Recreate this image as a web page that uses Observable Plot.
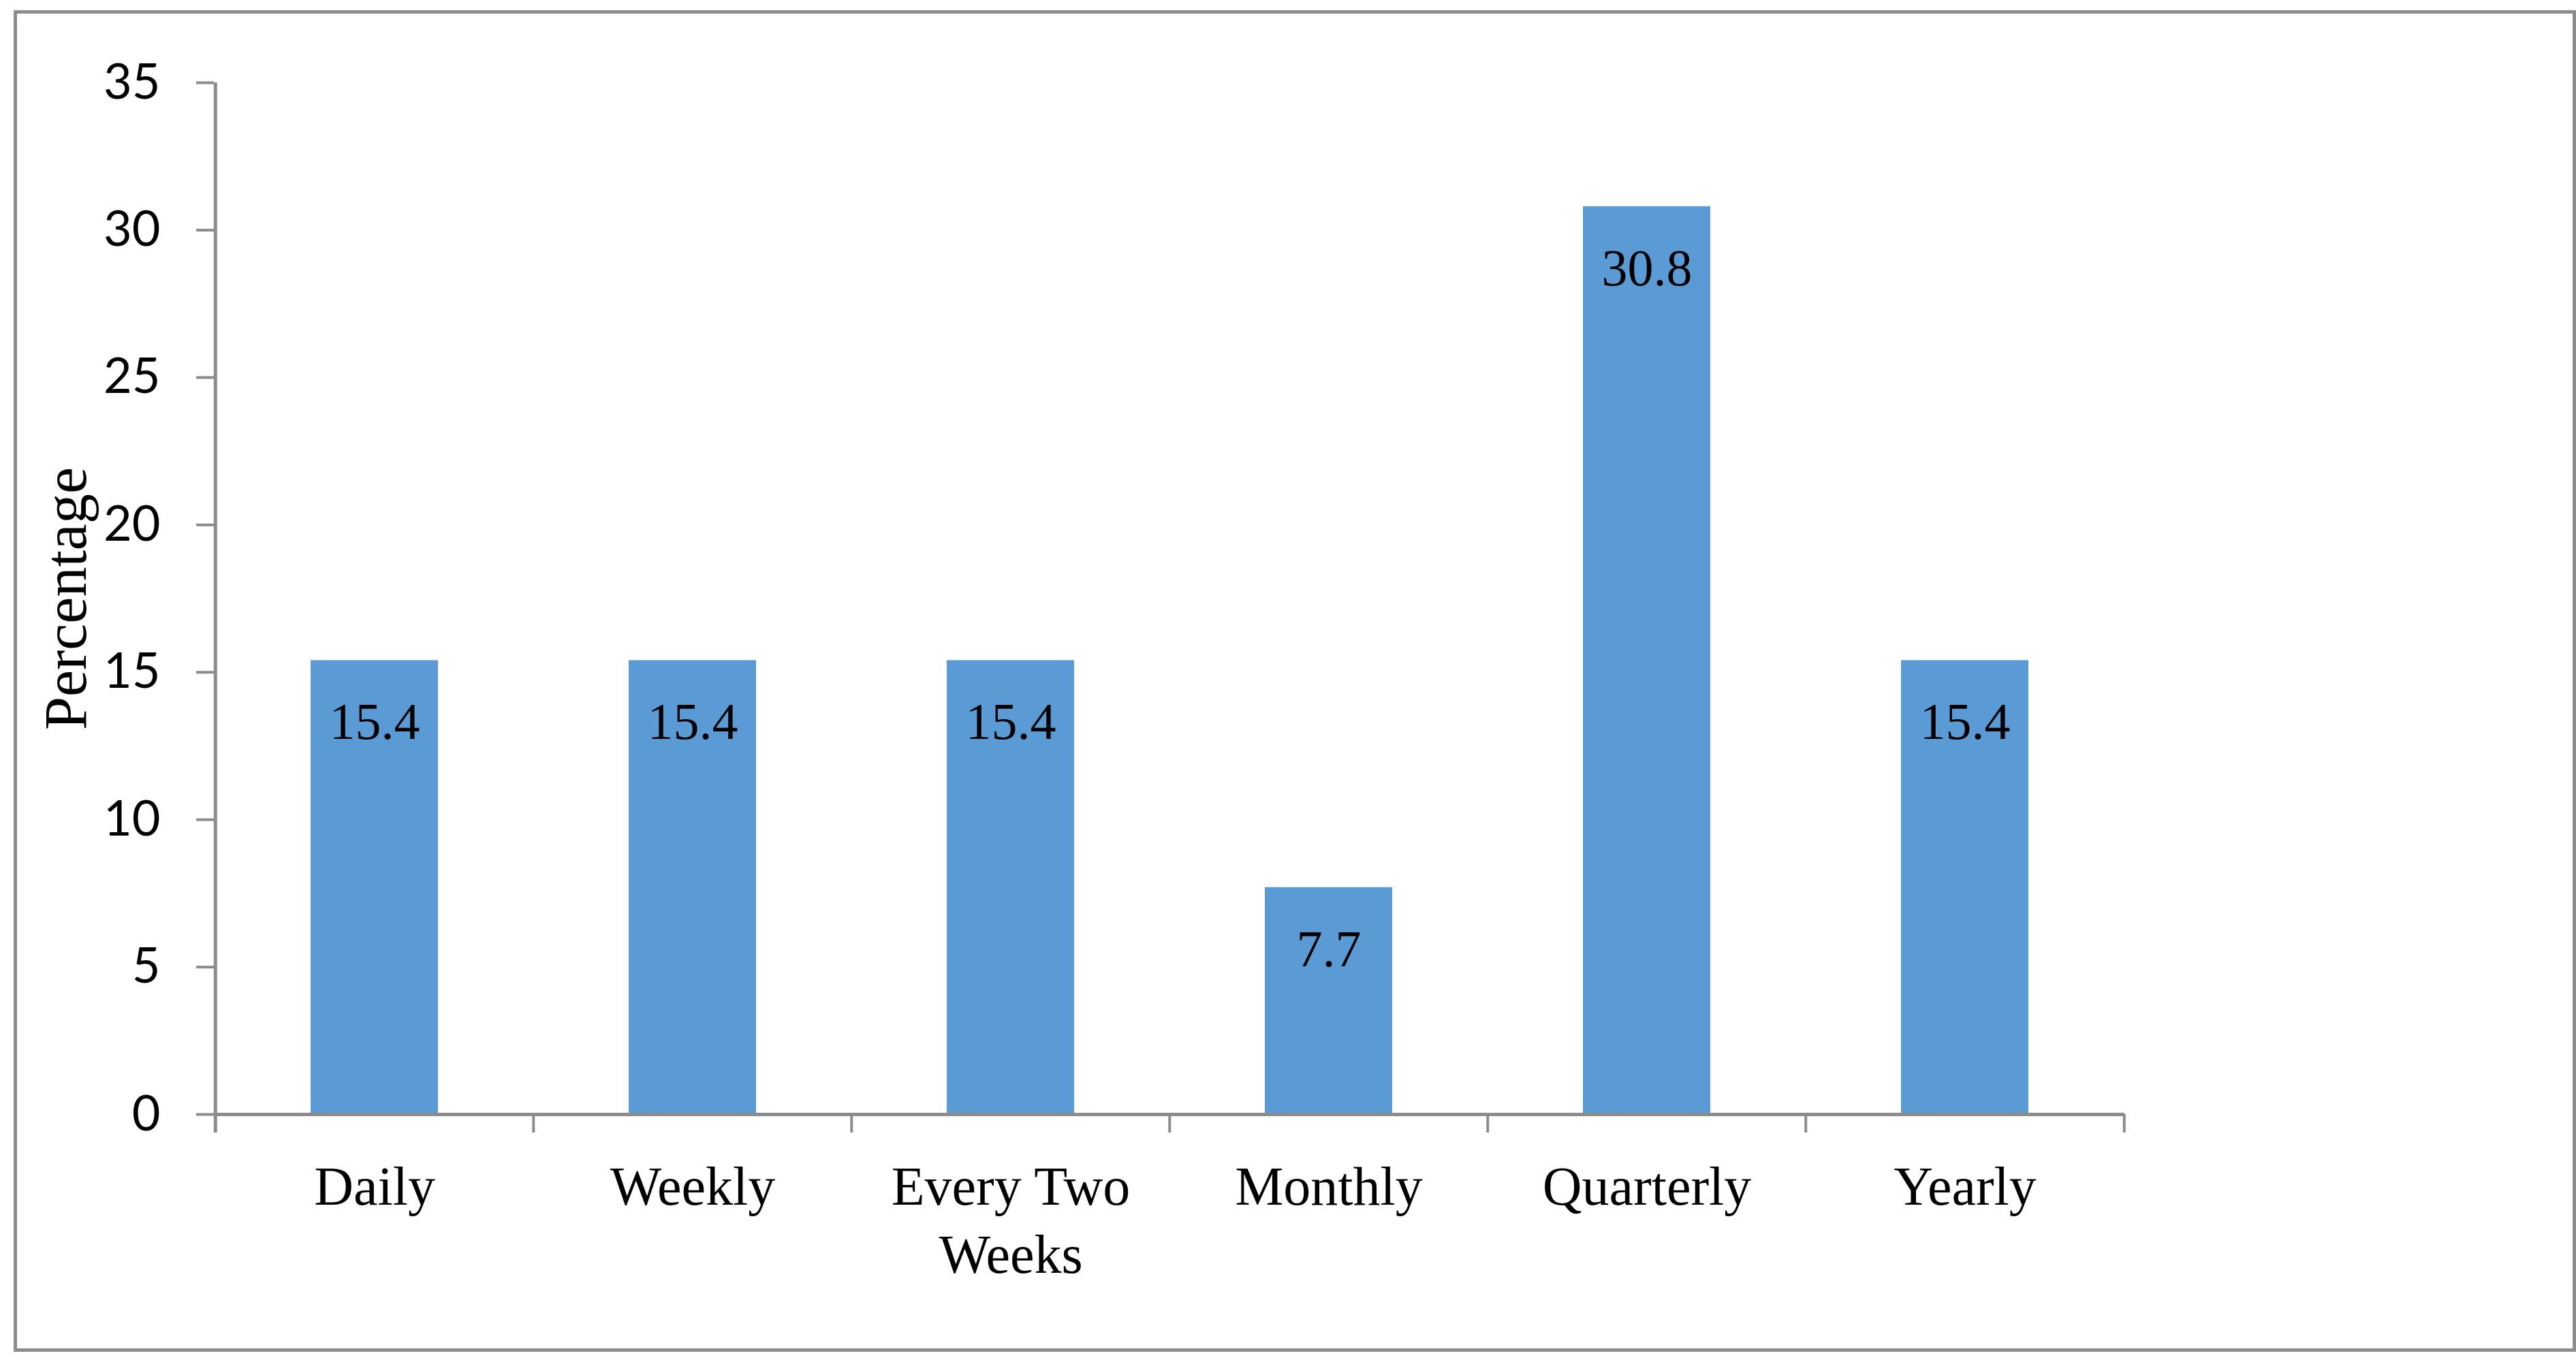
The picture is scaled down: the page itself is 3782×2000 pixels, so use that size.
<!DOCTYPE html>
<html>
<head>
<meta charset="utf-8">
<script src="https://cdn.jsdelivr.net/npm/d3@7"></script>
<script src="https://cdn.jsdelivr.net/npm/@observablehq/plot@0.6"></script>
<style>
  html, body { margin: 0; padding: 0; background: #ffffff; }
</style>
</head>
<body>
<div id="chart"></div>
<script>
const categories = ["Daily", "Weekly", "Every Two Weeks", "Monthly", "Quarterly", "Yearly"];
const categoryLabels = ["Daily", "Weekly", "Every Two\nWeeks", "Monthly", "Quarterly", "Yearly"];
const percentages = [15.4, 15.4, 15.4, 7.7, 30.8, 15.4];
const yTicks = [0, 5, 10, 15, 20, 25, 30, 35];
const yLabel = "Percentage";

const data = categories.map((c, i) => ({category: c, value: percentages[i]}));

const W = 3782, H = 2000;
const mL = 314, mR = 663, mT = 121, mB = 364;
const step = (W - mL - mR) / categories.length;
const gray = "#8c8c8c";
const serif = "'Liberation Serif', 'Times New Roman', serif";

const chart = Plot.plot({
  width: W,
  height: H,
  marginLeft: mL,
  marginRight: mR,
  marginTop: mT,
  marginBottom: mB,
  style: {background: "#ffffff", color: "#000000", fontFamily: serif},
  x: {domain: categories, paddingInner: 0.6, paddingOuter: 0.3},
  y: {domain: [0, 35]},
  marks: [
    Plot.frame({stroke: gray, strokeWidth: 5, insetLeft: -(mL - 22), insetTop: -(mT - 17), insetRight: -(3779 - (W - mR)), insetBottom: -(1982 - (H - mB))}),
    Plot.barY(data, {x: "category", y: "value", fill: "#5B9BD5"}),
    Plot.ruleX([categories[0]], {x: d => d, y1: 35, y2: 0, dx: -step / 2, stroke: gray, strokeWidth: 5, insetBottom: -27}),
    Plot.ruleY([0], {stroke: gray, strokeWidth: 5}),
    Plot.ruleX(categories.slice(1), {x: d => d, y1: 0, y2: 0, dx: -step / 2, stroke: gray, strokeWidth: 4, insetBottom: -27}),
    Plot.ruleX([categories[categories.length - 1]], {x: d => d, y1: 0, y2: 0, dx: step / 2, stroke: gray, strokeWidth: 4, insetBottom: -27}),
    Plot.axisY({ticks: yTicks, tickSize: 26, tickPadding: 53, stroke: gray, strokeWidth: 4, fill: "#000000", fontFamily: "Lato, 'Open Sans', sans-serif", fontSize: 72, label: null}),
    Plot.axisX({tickSize: 0, tickPadding: 61, tickFormat: (d) => categoryLabels[categories.indexOf(d)], fill: "#000000", fontFamily: serif, fontSize: 80, lineHeight: 1.25, label: null}),
    Plot.text(data, {x: "category", y: "value", text: d => d.value.toFixed(1), dy: 91, fill: "#000000", fontFamily: serif, fontSize: 76}),
    Plot.text([yLabel], {frameAnchor: "left", text: d => d, rotate: -90, textAnchor: "middle", dx: -217, fill: "#000000", fontFamily: serif, fontSize: 88})
  ]
});

document.getElementById("chart").appendChild(chart);
</script>
</body>
</html>
